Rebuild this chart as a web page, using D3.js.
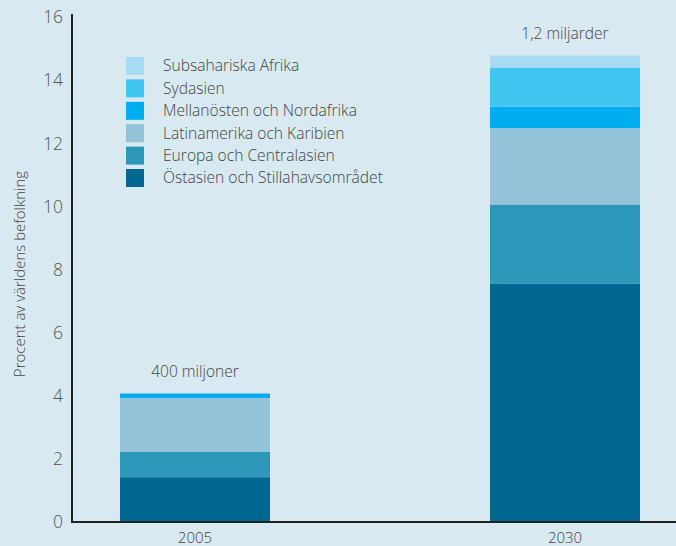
<!DOCTYPE html>
<html>
<head>
<meta charset="utf-8">
<script src="https://cdn.jsdelivr.net/npm/d3@7"></script>
<style>
  body { margin: 0; background: #d8e9f1; }
  svg { display: block; font-family: "Open Sans", Lato, sans-serif; }
</style>
</head>
<body>
<div id="chart"></div>
<script>
// data
const years = ["2005", "2030"];
const regions = [
  "Östasien och Stillahavsområdet",
  "Europa och Centralasien",
  "Latinamerika och Karibien",
  "Mellanösten och Nordafrika",
  "Sydasien",
  "Subsahariska Afrika"
];
const colors = ["#006890", "#2e98bb", "#94c3da", "#00aeef", "#41c6f2", "#a8dcf5"];
const values2005 = [1.42, 0.8, 1.71, 0.14, 0, 0];
const values2030 = [7.56, 2.5, 2.42, 0.68, 1.24, 0.38];
const totals = ["400 miljoner", "1,2 miljarder"];
const yTicks = [0, 2, 4, 6, 8, 10, 12, 14, 16];

const width = 676, height = 546;
const margin = { top: 16, right: 0, bottom: 24, left: 72 };

const rows = years.map((y, i) => {
  let r = { year: y };
  let v = i ? values2030 : values2005;
  regions.forEach((k, j) => (r[k] = v[j]));
  return r;
});

const svg = d3
  .select("#chart")
  .append("svg")
  .attr("width", width)
  .attr("height", height);

const x = d3
  .scaleBand()
  .domain(years)
  .range([120, 640])
  .paddingInner(0.5946)
  .paddingOuter(0);

const y = d3
  .scaleLinear()
  .domain([0, 16])
  .range([height - margin.bottom, margin.top + 1]);

const color = d3.scaleOrdinal().domain(regions).range(colors);

const stacked = d3.stack().keys(regions)(rows);

svg
  .append("g")
  .selectAll("g")
  .data(stacked)
  .join("g")
  .attr("fill", (d) => color(d.key))
  .selectAll("rect")
  .data((d) => d)
  .join("rect")
  .attr("x", (d) => x(d.data.year))
  .attr("width", x.bandwidth())
  .attr("y", (d) => y(d[1]))
  .attr("height", (d) => y(d[0]) - y(d[1]));

// axes
svg
  .append("line")
  .attr("x1", margin.left)
  .attr("x2", margin.left)
  .attr("y1", y(16) - 3)
  .attr("y2", y(0) + 1)
  .attr("stroke", "#222")
  .attr("stroke-width", 2);
svg
  .append("line")
  .attr("x1", margin.left - 1)
  .attr("x2", width)
  .attr("y1", y(0))
  .attr("y2", y(0))
  .attr("stroke", "#222")
  .attr("stroke-width", 2);

svg
  .append("g")
  .selectAll("text")
  .data(yTicks)
  .join("text")
  .attr("x", margin.left - 9)
  .attr("y", (d) => y(d))
  .attr("dy", "0.36em")
  .attr("text-anchor", "end")
  .attr("font-size", 17.5)
  .attr("font-weight", 300)
  .attr("fill", "#555")
  .text((d) => d);

svg
  .append("g")
  .selectAll("text")
  .data(years)
  .join("text")
  .attr("x", (d) => x(d) + x.bandwidth() / 2)
  .attr("y", height - 3)
  .attr("text-anchor", "middle")
  .attr("font-size", 15)
  .attr("font-weight", 300)
  .attr("fill", "#444")
  .text((d) => d);

svg
  .append("text")
  .attr("transform", "translate(25,274) rotate(-90)")
  .attr("text-anchor", "middle")
  .attr("font-size", 15)
  .attr("font-weight", 300)
  .attr("fill", "#444")
  .text("Procent av världens befolkning");

// totals above bars
svg
  .append("g")
  .selectAll("text")
  .data(rows)
  .join("text")
  .attr("x", (d) => x(d.year) + x.bandwidth() / 2)
  .attr("y", (d, i) => y(d3.sum(i ? values2030 : values2005)) - 17)
  .attr("text-anchor", "middle")
  .attr("font-size", 15.5)
  .attr("font-weight", 300)
  .attr("fill", "#444")
  .text((d, i) => totals[i]);

// legend (top item = last stack layer)
const legend = svg
  .append("g")
  .attr("transform", "translate(126,57)")
  .selectAll("g")
  .data(regions.slice().reverse())
  .join("g")
  .attr("transform", (d, i) => `translate(0,${i * 22.4})`);

legend
  .append("rect")
  .attr("width", 18)
  .attr("height", 18)
  .attr("fill", (d) => color(d));

legend
  .append("text")
  .attr("x", 37)
  .attr("y", 9)
  .attr("dy", "0.35em")
  .attr("font-size", 15.6)
  .attr("font-weight", 300)
  .attr("fill", "#444")
  .text((d) => d);
</script>
</body>
</html>
